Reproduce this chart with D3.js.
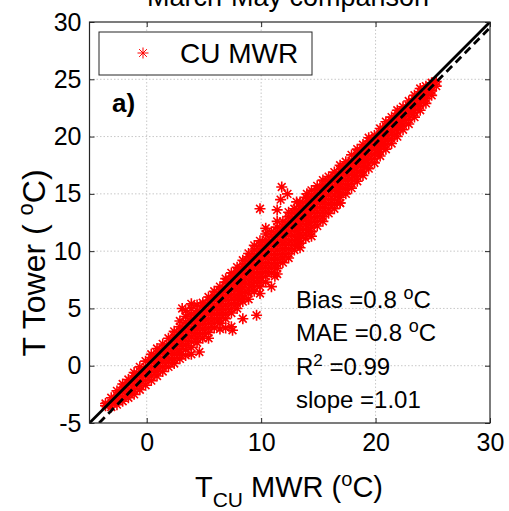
<!DOCTYPE html>
<html><head><meta charset="utf-8">
<script src="https://cdn.jsdelivr.net/npm/d3@7"></script>
<style>
html,body{margin:0;padding:0;background:#fff;}
svg{display:block;font-family:Arial,"Liberation Sans",Helvetica,sans-serif;}
</style></head>
<body><svg id="c" width="509" height="511"></svg>
<script>
// ---- data ----
const titleText = "March-May comparison";
const xTicks = [0, 10, 20, 30];
const yTicks = [-5, 0, 5, 10, 15, 20, 25, 30];
const gridX = [0, 10, 20];
const gridY = [0, 5, 10, 15, 20, 25];
const seriesName = "CU MWR";
// columns: [T_CU MWR, [T Tower values]]
const cloud = [
 [-3.6, [-3.5, -3.3]],
 [-3.1, [-3.6, -3.2, -2.8]],
 [-2.6, [-3.4, -3.0, -2.6, -2.2]],
 [-2.1, [-3.1, -2.7, -2.3, -1.9, -1.6]],
 [-1.6, [-2.8, -2.4, -2.0, -1.6, -1.2]],
 [-1.1, [-2.5, -2.1, -1.7, -1.3, -0.9, -0.6]],
 [-0.6, [-2.1, -1.7, -1.3, -0.9, -0.5, -0.1]],
 [-0.1, [-1.7, -1.3, -0.9, -0.5, -0.1, 0.4]],
 [0.4, [-1.3, -0.9, -0.5, -0.1, 0.3, 0.7, 1.0]],
 [0.9, [-0.9, -0.5, -0.1, 0.3, 0.7, 1.1, 1.5]],
 [1.4, [-0.5, -0.1, 0.3, 0.7, 1.1, 1.5, 1.9]],
 [1.9, [-0.1, 0.3, 0.7, 1.1, 1.5, 1.9, 2.4]],
 [2.4, [0.2, 0.6, 1.0, 1.4, 1.8, 2.2, 2.6, 3.0]],
 [2.9, [0.6, 1.0, 1.4, 1.8, 2.2, 2.6, 3.0, 3.4, 3.9]],
 [3.4, [0.9, 1.4, 1.8, 2.2, 2.6, 3.0, 3.4, 3.8, 4.3, 4.8]],
 [3.9, [1.0, 1.6, 2.1, 2.5, 2.9, 3.3, 3.7, 4.1, 4.5, 5.0, 5.4]],
 [4.4, [2.0, 2.4, 2.8, 3.2, 3.6, 4.0, 4.4, 4.8, 5.3]],
 [4.9, [2.4, 2.8, 3.2, 3.6, 4.0, 4.4, 4.8, 5.2, 5.5]],
 [5.4, [2.4, 2.9, 3.3, 3.7, 4.1, 4.5, 4.9, 5.3, 5.7, 6.0]],
 [5.9, [3.3, 3.7, 4.1, 4.5, 4.9, 5.3, 5.7, 6.1, 6.5]],
 [6.4, [3.2, 3.7, 4.1, 4.5, 4.9, 5.3, 5.7, 6.1, 6.5, 6.9]],
 [6.9, [3.3, 4.1, 4.5, 4.9, 5.3, 5.7, 6.1, 6.5, 6.9, 7.3, 7.6]],
 [7.4, [3.4, 4.6, 5.0, 5.4, 5.8, 6.2, 6.6, 7.0, 7.4, 7.8, 8.1]],
 [7.9, [5.0, 5.4, 5.8, 6.2, 6.6, 7.0, 7.4, 7.8, 8.2, 8.6]],
 [8.4, [4.1, 5.6, 6.0, 6.4, 6.8, 7.2, 7.6, 8.0, 8.4, 8.8, 9.2]],
 [8.9, [5.8, 6.3, 6.7, 7.1, 7.5, 7.9, 8.3, 8.7, 9.1, 9.5, 9.8]],
 [9.4, [6.5, 6.9, 7.3, 7.7, 8.1, 8.5, 8.9, 9.3, 9.7, 10.1, 10.5]],
 [9.9, [6.9, 7.3, 7.7, 8.1, 8.5, 8.9, 9.3, 9.7, 10.1, 10.5, 10.9]],
 [10.4, [7.3, 7.8, 8.2, 8.6, 9.0, 9.4, 9.8, 10.2, 10.6, 11.0, 11.5, 12.0]],
 [10.9, [8.1, 8.5, 8.9, 9.3, 9.7, 10.1, 10.5, 10.9, 11.3, 11.7]],
 [11.4, [8.0, 8.5, 8.9, 9.3, 9.7, 10.1, 10.5, 10.9, 11.3, 11.7, 12.1, 12.6]],
 [11.9, [9.0, 9.4, 9.8, 10.2, 10.6, 11.0, 11.4, 11.8, 12.2, 12.6]],
 [12.4, [9.4, 9.8, 10.2, 10.6, 11.0, 11.4, 11.8, 12.2, 12.6, 13.0, 13.4]],
 [12.9, [10.1, 10.5, 10.9, 11.3, 11.7, 12.1, 12.5, 12.9, 13.3, 13.7]],
 [13.4, [10.3, 10.7, 11.1, 11.5, 11.9, 12.3, 12.7, 13.1, 13.5, 13.9, 14.3]],
 [13.9, [11.1, 11.5, 11.9, 12.3, 12.7, 13.1, 13.5, 13.9, 14.3, 14.7]],
 [14.4, [11.3, 11.7, 12.1, 12.5, 12.9, 13.3, 13.7, 14.1, 14.5, 14.9, 15.3]],
 [14.9, [12.2, 12.6, 13.0, 13.4, 13.8, 14.2, 14.6, 15.0, 15.4, 15.7]],
 [15.4, [12.6, 13.0, 13.4, 13.8, 14.2, 14.6, 15.0, 15.4, 15.8, 16.2]],
 [15.9, [13.3, 13.7, 14.1, 14.5, 14.9, 15.3, 15.7, 16.1, 16.5]],
 [16.4, [13.7, 14.1, 14.5, 14.9, 15.3, 15.7, 16.1, 16.5, 16.9]],
 [16.9, [14.2, 14.7, 15.1, 15.5, 15.9, 16.3, 16.7, 17.1, 17.5]],
 [17.4, [15.0, 15.4, 15.8, 16.2, 16.6, 17.0, 17.4, 17.8]],
 [17.9, [15.5, 15.9, 16.3, 16.7, 17.1, 17.5, 17.9, 18.4]],
 [18.4, [16.1, 16.5, 16.9, 17.3, 17.7, 18.1, 18.5, 18.9]],
 [18.9, [16.6, 17.0, 17.4, 17.8, 18.2, 18.6, 19.0, 19.3]],
 [19.4, [17.2, 17.6, 18.0, 18.4, 18.8, 19.2, 19.6, 19.9]],
 [19.9, [17.7, 18.1, 18.5, 18.9, 19.3, 19.7, 20.1]],
 [20.4, [18.3, 18.7, 19.1, 19.5, 19.9, 20.3, 20.7]],
 [20.9, [18.9, 19.3, 19.7, 20.1, 20.5, 20.9, 21.3]],
 [21.4, [19.4, 19.8, 20.2, 20.6, 21.0, 21.4, 21.7]],
 [21.9, [20.0, 20.4, 20.8, 21.2, 21.6, 22.0, 22.3]],
 [22.4, [20.6, 21.0, 21.4, 21.8, 22.2, 22.6]],
 [22.9, [21.1, 21.5, 21.9, 22.3, 22.7, 23.1]],
 [23.4, [21.7, 22.1, 22.5, 22.9, 23.3, 23.6]],
 [23.9, [22.3, 22.7, 23.1, 23.5, 23.9, 24.2]],
 [24.4, [22.9, 23.3, 23.7, 24.1, 24.4]],
 [24.9, [23.6, 24.0, 24.4, 24.7]],
 [25.3, [24.4, 24.8]]
];
// isolated points [T_CU MWR, T Tower]
const outliers = [
 [9.9, 13.7], [11.4, 13.6], [11.8, 15.6], [12.3, 15.0], [11.7, 14.5],
 [13.1, 14.3], [14.0, 15.0], [4.6, 1.2], [7.5, 3.1], [9.6, 4.4],
 [9.9, 6.3], [10.9, 6.9], [11.2, 7.8], [16.9, 14.2], [3.1, 5.0]
];
const oneToOne = [[-5, -5], [30, 30]];
const fitLine = [[-4.16, -5], [30, 29.5]];
const stats = [
 {label: "Bias =0.8 ", unit: true},
 {label: "MAE =0.8 ", unit: true},
 {label: "R", sup: "2", rest: " =0.99"},
 {label: "slope =1.01"}
];
const panelLabel = "a)";

// ---- drawing ----
const svg = d3.select("#c");
const x = d3.scaleLinear().domain([-5, 30]).range([89.5, 490]);
const y = d3.scaleLinear().domain([-5, 30]).range([423, 22]);
const FONT = "Arial, 'Liberation Sans', Helvetica, sans-serif";

// title (mostly cut off at the top, as in the reference)
svg.append("text").attr("x", 288).attr("y", 6).attr("text-anchor", "middle")
  .attr("font-size", 27).attr("fill", "#000").text(titleText);

// grid
const grid = svg.append("g").attr("stroke", "#c8c8c8").attr("stroke-width", 1)
  .attr("stroke-dasharray", "1.5,2");
grid.selectAll(".gx").data(gridX).join("line")
  .attr("x1", d => x(d)).attr("x2", d => x(d)).attr("y1", y(-5)).attr("y2", y(30));
grid.selectAll(".gy").data(gridY).join("line")
  .attr("y1", d => y(d)).attr("y2", d => y(d)).attr("x1", x(-5)).attr("x2", x(30));

// clip
svg.append("clipPath").attr("id", "clip").append("rect")
  .attr("x", x(-5)).attr("y", y(30)).attr("width", x(30) - x(-5)).attr("height", y(-5) - y(30));

// points
const pts = [];
cloud.forEach(([xv, ys]) => ys.forEach(yv => pts.push([xv, yv])));
outliers.forEach(p => pts.push(p));
const r = 5.5, a = r * 0.707;
const starPath = `M${-r},0L${r},0M0,${-r}L0,${r}M${-a},${-a}L${a},${a}M${-a},${a}L${a},${-a}`;
const pg = svg.append("g").attr("clip-path", "url(#clip)");
pg.selectAll("path.pt").data(pts).join("path").attr("class", "pt")
  .attr("d", starPath)
  .attr("transform", d => `translate(${x(d[0])},${y(d[1])})`)
  .attr("fill", "none").attr("stroke", "#ff0000").attr("stroke-width", 1.6);

// lines
const line = d3.line().x(d => x(d[0])).y(d => y(d[1]));
pg.append("path").datum(oneToOne).attr("d", line).attr("stroke", "#000")
  .attr("stroke-width", 2.8).attr("fill", "none");
pg.append("path").datum(fitLine).attr("d", line).attr("stroke", "#000")
  .attr("stroke-width", 2.8).attr("fill", "none").attr("stroke-dasharray", "8,5");

// axes
function styleAxis(g) {
  g.select(".domain").remove();
  g.selectAll(".tick line").attr("stroke", "#262626").attr("stroke-width", 1);
  g.selectAll(".tick text").attr("font-family", FONT).attr("fill", "#000");
}
const fmt = d => String(d);
svg.append("g").attr("transform", `translate(0,${y(-5)})`)
  .call(d3.axisBottom(x).tickValues(xTicks).tickFormat(fmt).tickSizeInner(-5).tickSizeOuter(0).tickPadding(10))
  .attr("font-size", 25).call(styleAxis);
svg.append("g").attr("transform", `translate(0,${y(30)})`)
  .call(d3.axisTop(x).tickValues(xTicks).tickSizeInner(-5).tickSizeOuter(0).tickFormat(""))
  .call(styleAxis);
svg.append("g").attr("transform", `translate(${x(-5)},0)`)
  .call(d3.axisLeft(y).tickValues(yTicks).tickFormat(fmt).tickSizeInner(-5).tickSizeOuter(0).tickPadding(8))
  .attr("font-size", 25).call(styleAxis);
svg.append("g").attr("transform", `translate(${x(30)},0)`)
  .call(d3.axisRight(y).tickValues(yTicks).tickSizeInner(-5).tickSizeOuter(0).tickFormat(""))
  .call(styleAxis);

// frame
svg.append("rect").attr("x", x(-5)).attr("y", y(30)).attr("width", x(30) - x(-5))
  .attr("height", y(-5) - y(30)).attr("fill", "none").attr("stroke", "#262626").attr("stroke-width", 1.2);

// axis labels
const xl = svg.append("text").attr("x", 289).attr("y", 497).attr("text-anchor", "middle")
  .attr("font-size", 29).attr("fill", "#000");
xl.append("tspan").text("T");
xl.append("tspan").attr("font-size", 21).attr("dy", 10).text("CU");
xl.append("tspan").attr("dy", -10).text(" MWR (");
xl.append("tspan").attr("font-size", 20).attr("dy", -11).text("o");
xl.append("tspan").attr("dy", 11).text("C)");

const yl = svg.append("text").attr("transform", `translate(45,263) rotate(-90)`)
  .attr("text-anchor", "middle").attr("font-size", 32).attr("fill", "#000");
yl.append("tspan").text("T Tower ( ");
yl.append("tspan").attr("font-size", 22).attr("dy", -12).text("o");
yl.append("tspan").attr("dy", 12).text("C)");

// legend
svg.append("rect").attr("x", 99).attr("y", 32).attr("width", 213).attr("height", 43)
  .attr("fill", "#fff").attr("stroke", "#262626").attr("stroke-width", 1);
svg.append("path").attr("d", starPath).attr("transform", "translate(143,53)")
  .attr("fill", "none").attr("stroke", "#ff0000").attr("stroke-width", 1);
svg.append("text").attr("x", 180).attr("y", 63).attr("font-size", 28).attr("fill", "#000").text(seriesName);

// panel label
svg.append("text").attr("x", 112).attr("y", 112).attr("font-size", 26).attr("font-weight", "bold")
  .attr("fill", "#000").text(panelLabel);

// stats text
const st = svg.append("g").attr("font-size", 24).attr("fill", "#000");
stats.forEach((s, i) => {
  const t = st.append("text").attr("x", 296).attr("y", 308 + i * 33.4);
  t.append("tspan").text(s.label);
  if (s.unit) {
    t.append("tspan").attr("font-size", 18).attr("dy", -9).text("o");
    t.append("tspan").attr("dy", 9).text("C");
  }
  if (s.sup) {
    t.append("tspan").attr("font-size", 17).attr("dy", -9).text(s.sup);
    t.append("tspan").attr("dy", 9).text(s.rest);
  }
});
</script></body></html>
